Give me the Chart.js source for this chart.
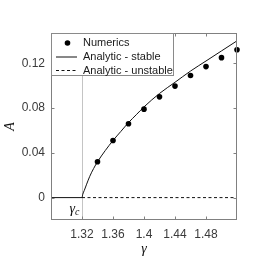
<!DOCTYPE html>
<html>
<head>
<meta charset="utf-8">
<script src="https://cdn.jsdelivr.net/npm/chart.js@4/dist/chart.umd.min.js"></script>
<style>
html,body{margin:0;padding:0;background:#fff;}
#wrap{width:274px;height:274px;}
</style>
</head>
<body>
<div id="wrap"><canvas id="c" width="274" height="274"></canvas></div>
<script>
// ---- data ----
const numericsGamma = [1.34, 1.36, 1.38, 1.40, 1.42, 1.44, 1.46, 1.48, 1.50, 1.52];
const numericsA     = [0.032, 0.051, 0.066, 0.079, 0.090, 0.0996, 0.109, 0.117, 0.125, 0.132];
const stableGamma   = [1.28, 1.32, 1.321, 1.323, 1.326, 1.33, 1.335, 1.34, 1.35, 1.36, 1.37, 1.38, 1.39, 1.40, 1.42, 1.44, 1.46, 1.48, 1.50, 1.52];
const stableA       = [0, 0, 0.003, 0.0065, 0.012, 0.019, 0.026, 0.032, 0.042, 0.051, 0.059, 0.067, 0.074, 0.081, 0.093, 0.103, 0.113, 0.122, 0.131, 0.140];
const unstableGamma = [1.32, 1.52];
const unstableA     = [0, 0];
const gammaC = 1.32;
const xTicks = [1.32, 1.36, 1.40, 1.44, 1.48];
const xTickLabels = ['1.32', '1.36', '1.4', '1.44', '1.48'];
const yTicks = [0, 0.04, 0.08, 0.12];
const yTickLabels = ['0', '0.04', '0.08', '0.12'];
const seriesLabels = ['Numerics', 'Analytic - stable', 'Analytic - unstable'];

const toXY = (xs, ys) => xs.map((x, i) => ({x: x, y: ys[i]}));

const boxPlugin = {
  id: 'boxPlugin',
  beforeDatasetsDraw(chart) {
    const {ctx, chartArea: a, scales: {x}} = chart;
    const px = Math.round(x.getPixelForValue(gammaC)) + 0.5;
    ctx.save();
    ctx.strokeStyle = '#c4c4c4';
    ctx.lineWidth = 1;
    ctx.beginPath();
    ctx.moveTo(px, a.top);
    ctx.lineTo(px, a.bottom);
    ctx.stroke();
    // gamma_c label
    ctx.fillStyle = '#111';
    ctx.textBaseline = 'alphabetic';
    ctx.textAlign = 'left';
    ctx.font = 'italic 14px "Liberation Serif"';
    const gw = ctx.measureText('γ').width;
    ctx.font = 'italic 10px "Liberation Serif"';
    const cw = ctx.measureText('c').width;
    const start = px - 3 - gw - cw;
    ctx.font = 'italic 14px "Liberation Serif"';
    ctx.fillText('γ', start, 213);
    ctx.font = 'italic 10px "Liberation Serif"';
    ctx.fillText('c', start + gw, 215);
    ctx.restore();
  },
  afterDraw(chart) {
    const {ctx, chartArea: a, scales: {x, y}} = chart;
    ctx.save();
    ctx.strokeStyle = '#808080';
    ctx.lineWidth = 1;
    const L = Math.round(a.left) + 0.5, R = Math.round(a.right) - 0.5;
    const T = Math.round(a.top) + 0.5, B = Math.round(a.bottom) - 0.5;
    ctx.strokeRect(L, T, R - L, B - T);
    ctx.beginPath();
    xTicks.forEach(v => {
      const p = Math.round(x.getPixelForValue(v)) + 0.5;
      ctx.moveTo(p, B); ctx.lineTo(p, B - 3);
      ctx.moveTo(p, T); ctx.lineTo(p, T + 3);
    });
    yTicks.forEach(v => {
      const p = Math.round(y.getPixelForValue(v)) + 0.5;
      ctx.moveTo(L, p); ctx.lineTo(L + 3, p);
      ctx.moveTo(R, p); ctx.lineTo(R - 3, p);
    });
    ctx.stroke();

    // legend
    const lx = L, ly = T, lw = 122, lh = 42;
    ctx.fillStyle = '#fff';
    ctx.fillRect(lx, ly, lw, lh);
    ctx.strokeStyle = '#8a8a8a';
    ctx.strokeRect(lx, ly, lw, lh);
    const ds = chart.data.datasets;
    const rows = [43, 57, 70.5];
    ctx.font = '11px "Liberation Sans", Arial, sans-serif';
    ctx.textBaseline = 'middle';
    ctx.textAlign = 'left';
    // row 0: marker
    ctx.fillStyle = ds[0].backgroundColor;
    ctx.beginPath();
    ctx.arc(67.5, rows[0], 2.8, 0, Math.PI * 2);
    ctx.fill();
    // row 1: solid line
    ctx.strokeStyle = ds[1].borderColor;
    ctx.lineWidth = 1;
    ctx.beginPath();
    ctx.moveTo(56, rows[1]); ctx.lineTo(77, rows[1]);
    ctx.stroke();
    // row 2: dashed
    ctx.setLineDash(ds[2].borderDash);
    ctx.beginPath();
    ctx.moveTo(56, rows[2]); ctx.lineTo(77, rows[2]);
    ctx.stroke();
    ctx.setLineDash([]);
    ctx.fillStyle = '#1a1a1a';
    ds.forEach((d, i) => ctx.fillText(d.label, 83, rows[i]));
    ctx.restore();
  }
};

new Chart(document.getElementById('c'), {
  type: 'scatter',
  data: {
    datasets: [
      {
        label: seriesLabels[0],
        data: toXY(numericsGamma, numericsA),
        backgroundColor: '#000',
        borderColor: '#000',
        pointRadius: 2.8,
        pointBorderWidth: 0,
        showLine: false,
        clip: false,
        order: 0
      },
      {
        label: seriesLabels[1],
        data: toXY(stableGamma, stableA),
        borderColor: '#111',
        backgroundColor: '#111',
        borderWidth: 1,
        pointRadius: 0,
        showLine: true,
        cubicInterpolationMode: 'monotone',
        order: 1
      },
      {
        label: seriesLabels[2],
        data: toXY(unstableGamma, unstableA),
        borderColor: '#111',
        backgroundColor: '#111',
        borderWidth: 1,
        borderDash: [3, 2.5],
        pointRadius: 0,
        showLine: true,
        order: 2
      }
    ]
  },
  options: {
    responsive: false,
    animation: false,
    devicePixelRatio: 1,
    layout: {padding: {top: 33, right: 37, left: 0, bottom: 0}},
    plugins: {legend: {display: false}, tooltip: {enabled: false}},
    scales: {
      x: {
        type: 'linear',
        min: 1.28, max: 1.52,
        afterFit: s => { s.height = 54; },
        afterBuildTicks: s => { s.ticks = xTicks.map(v => ({value: v})); },
        grid: {display: false, drawTicks: false},
        border: {display: false},
        ticks: {
          padding: 7,
          maxRotation: 0,
          autoSkip: false,
          color: '#3a3a3a',
          font: {family: '"Liberation Sans", Arial, sans-serif', size: 12},
          callback: (v) => { const i = xTicks.indexOf(v); return i >= 0 ? xTickLabels[i] : ''; }
        },
        title: {
          display: true, text: 'γ', color: '#111',
          font: {family: '"Liberation Serif"', size: 14, style: 'italic'},
          padding: {top: 16, bottom: 16}
        }
      },
      y: {
        type: 'linear',
        min: -0.02, max: 0.147,
        afterFit: s => { s.width = 51; },
        afterBuildTicks: s => { s.ticks = yTicks.map(v => ({value: v})); },
        grid: {display: false, drawTicks: false},
        border: {display: false},
        ticks: {
          padding: 6,
          autoSkip: false,
          color: '#3a3a3a',
          font: {family: '"Liberation Sans", Arial, sans-serif', size: 12},
          callback: (v) => { const i = yTicks.indexOf(v); return i >= 0 ? yTickLabels[i] : ''; }
        },
        title: {
          display: true, text: 'A', color: '#111',
          font: {family: '"Liberation Serif"', size: 14, style: 'italic'},
          padding: {top: 2, bottom: 2}
        }
      }
    }
  },
  plugins: [boxPlugin]
});
</script>
</body>
</html>
